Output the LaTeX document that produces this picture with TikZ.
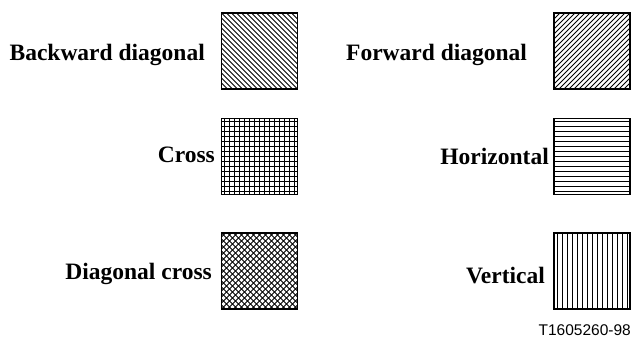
\documentclass[tikz,border=0pt]{standalone}
\usepackage{fontspec}
\setmainfont{Liberation Serif}
\newfontfamily\codefont{Liberation Sans}
\begin{document}
\begin{tikzpicture}[x=1pt,y=1pt,
  swatch/.style={draw, line width=1.1pt, minimum size=76pt, inner sep=0pt, outer sep=0pt},
  hatchline/.style={line width=0.8pt},
  caption/.style={inner sep=0pt, font=\fontsize{23.5}{28}\selectfont\bfseries},
  backdiag/.style={path picture={
    \begin{scope}[shift={(path picture bounding box.center)}]
      \foreach \k in {-80,-75,...,80} \draw[hatchline] (\k-40,40) -- (\k+40,-40);
    \end{scope}}},
  fwddiag/.style={path picture={
    \begin{scope}[shift={(path picture bounding box.center)}]
      \foreach \k in {-80,-75,...,80} \draw[hatchline] (\k-40,-40) -- (\k+40,40);
    \end{scope}}},
  crossgrid/.style={path picture={
    \begin{scope}[shift={(path picture bounding box.center)}]
      \foreach \k in {-35,-30,...,35} {
        \draw[hatchline] (\k,-40) -- (\k,40);
        \draw[hatchline] (-40,\k) -- (40,\k);}
    \end{scope}}},
  diagcross/.style={path picture={
    \begin{scope}[shift={(path picture bounding box.center)}]
      \foreach \k in {-84,-78,...,84} {
        \draw[hatchline] (\k-40,40) -- (\k+40,-40);
        \draw[hatchline] (\k-40,-40) -- (\k+40,40);}
    \end{scope}}},
  horizlines/.style={path picture={
    \begin{scope}[shift={(path picture bounding box.center)}]
      \foreach \k in {-35,-30,...,35} \draw[hatchline] (-40,\k) -- (40,\k);
    \end{scope}}},
  vertlines/.style={path picture={
    \begin{scope}[shift={(path picture bounding box.center)}]
      \foreach \k in {-35,-30,...,35} \draw[hatchline] (\k,-40) -- (\k,40);
    \end{scope}}}
]
\useasboundingbox (0,0) rectangle (633,338);

% pattern swatches
\node[swatch, backdiag]   (bd) at (259.5,287) {};
\node[swatch, crossgrid]  (cr) at (259.5,181.5) {};
\node[swatch, diagcross]  (dc) at (259.5,67) {};
\node[swatch, fwddiag]    (fd) at (592,287) {};
\node[swatch, horizlines] (hz) at (592,181.5) {};
\node[swatch, vertlines]  (vt) at (592,67) {};

% captions
\node[caption, anchor=base east] (lbd) at (205,277) {Backward diagonal};
\node[caption, anchor=base east] (lcr) at (215,175) {Cross};
\node[caption, anchor=base east] (ldc) at (212,58)  {Diagonal cross};
\node[caption, anchor=base west] (lfd) at (346,277) {Forward diagonal};
\node[caption, anchor=base east] (lhz) at (549,173) {Horizontal};
\node[caption, anchor=base east] (lvt) at (545,55)  {Vertical};

% figure code
\node[inner sep=0pt, anchor=base east, font=\codefont\fontsize{15.5}{18}\selectfont] (code) at (631,2) {T1605260-98};
\end{tikzpicture}
\end{document}
